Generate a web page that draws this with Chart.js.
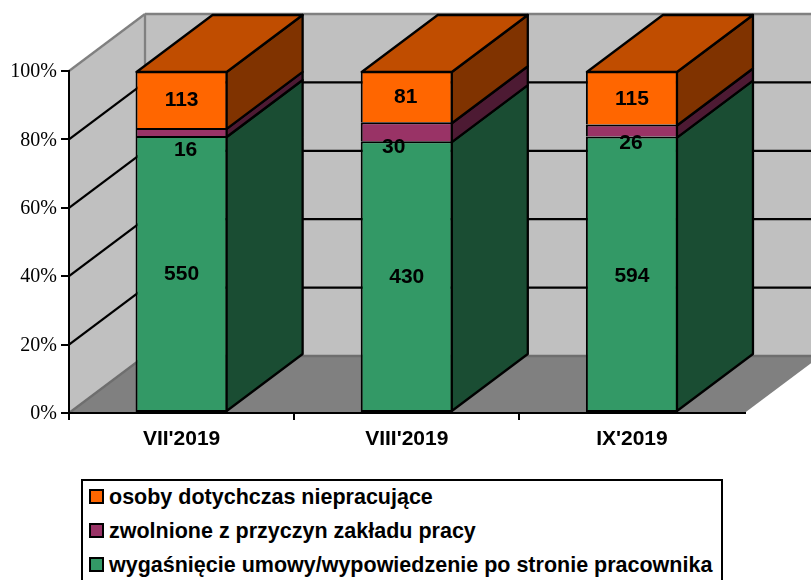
<!DOCTYPE html>
<html lang="pl">
<head>
<meta charset="utf-8">
<title>Struktura</title>
<script src="https://cdn.jsdelivr.net/npm/chart.js@4/dist/chart.umd.min.js"></script>
<style>
    html, body { margin: 0; padding: 0; background: #fff; overflow: hidden; }
    #wrap { position: relative; width: 811px; height: 580px; overflow: hidden; }
    #legend {
        position: absolute; left: 81px; top: 479px; width: 638px; height: 130px;
        border: 2px solid #000; background: #fff;
        font: bold 21.5px "Liberation Sans", Arial, sans-serif; color: #000;
    }
    .row { position: absolute; left: 6px; height: 22px; line-height: 22px; white-space: nowrap; }
    .swatch {
        position: absolute; left: 0; top: 3px; width: 11px; height: 11px;
        border: 2px solid #000;
    }
    .row span.txt { position: absolute; left: 20px; top: 0; }
</style>
</head>
<body>
<div id="wrap">
    <canvas id="chart" width="811" height="580"></canvas>
    <div id="legend"></div>
</div>
<script>
const months = ["VII'2019", "VIII'2019", "IX'2019"];
const leftContract = [550, 430, 594];
const dismissed = [16, 30, 26];
const notWorking = [113, 81, 115];
const yTicks = [0, 20, 40, 60, 80, 100];

const names = [
    'wygaśnięcie umowy/wypowiedzenie po stronie pracownika',
    'zwolnione z przyczyn zakładu pracy',
    'osoby dotychczas niepracujące',
];

const frontColors = ['#339966', '#993366', '#FF6600'];
const sideColors = ['#1A4D33', '#4D1A33', '#803300'];
const topColor = '#C04D00';

// 3D offset of the box depth
const DX = 76;
const DY = -57;

// hand-moved data labels, [x, y] per month per series
const labelShift = [
    [[0, 0], [4, 18], [0, 1]],
    [[0, 1], [-13, 16], [-1, 1]],
    [[0, 2], [-1, 13], [0, 1]],
];

const series = [leftContract, dismissed, notWorking];
const totals = months.map((_, i) => series.reduce((sum, s) => sum + s[i], 0));

function poly(ctx, pts, fill, stroke, lw) {
    ctx.beginPath();
    pts.forEach((p, i) => (i ? ctx.lineTo(p[0], p[1]) : ctx.moveTo(p[0], p[1])));
    ctx.closePath();
    if (fill) { ctx.fillStyle = fill; ctx.fill(); }
    if (stroke) { ctx.strokeStyle = stroke; ctx.lineWidth = lw || 2; ctx.stroke(); }
}

function line(ctx, x1, y1, x2, y2, color) {
    ctx.beginPath();
    ctx.moveTo(x1, y1);
    ctx.lineTo(x2, y2);
    ctx.strokeStyle = color;
    ctx.lineWidth = 2.3;
    ctx.stroke();
}

// --- walls, floor and their grid ---
const wallsPlugin = {
    id: 'walls',
    // before the scales, so the axis lines stay on top of the walls
    beforeDraw(chart) {
        const { ctx, chartArea: a, scales: { y } } = chart;
        const backL = a.left + DX;
        const backR = a.right + DX;
        const top = y.getPixelForValue(100);
        const bottom = y.getPixelForValue(0);

        ctx.save();
        poly(ctx, [[a.left, top], [backL, top + DY], [backR, top + DY], [backR, bottom + DY], [backL, bottom + DY], [a.left, bottom]], '#C0C0C0');
        poly(ctx, [[a.left, bottom], [backL, bottom + DY], [backR, bottom + DY], [a.right, bottom]], '#808080');

        line(ctx, a.left, top, backL, top + DY, '#808080');
        line(ctx, backL, top + DY, backR, top + DY, '#808080');
        line(ctx, backL, top + DY, backL, bottom + DY, '#808080');
        line(ctx, backL, bottom + DY, backR, bottom + DY, '#6E6E6E');
        line(ctx, a.left, bottom, backL, bottom + DY, '#6E6E6E');

        yTicks.forEach(v => {
            if (v === 0 || v === 100) return;
            const py = y.getPixelForValue(v);
            line(ctx, a.left, py, backL, py + DY, '#000');
            line(ctx, backL, py + DY, backR, py + DY, '#000');
        });
        ctx.restore();
    },
    afterDatasetsDraw(chart) {
        const { ctx } = chart;
        ctx.save();
        ctx.lineJoin = 'round';
        const last = chart.data.datasets.length - 1;
        chart.data.datasets.forEach((ds, d) => {
            chart.getDatasetMeta(d).data.forEach(bar => {
                const p = bar.getProps(['x', 'y', 'base', 'width'], true);
                const r = p.x + p.width / 2 - 1;
                const l = p.x - p.width / 2 + 1;
                const t = p.y + 1;
                const b = d === 0 ? p.base - 1 : p.base + 1;
                poly(ctx, [[r, b], [r + DX, b + DY], [r + DX, t + DY], [r, t]], sideColors[d], '#000', 2.3);
                if (d === last) {
                    poly(ctx, [[l, t], [l + DX, t + DY], [r + DX, t + DY], [r, t]], topColor, '#000', 2.3);
                }
            });
        });

        // data labels
        ctx.font = 'bold 21px "Liberation Sans", Arial, sans-serif';
        ctx.fillStyle = '#000';
        ctx.textAlign = 'center';
        ctx.textBaseline = 'middle';
        chart.data.datasets.forEach((ds, d) => {
            chart.getDatasetMeta(d).data.forEach((bar, i) => {
                const p = bar.getProps(['x', 'y', 'base'], true);
                const shift = labelShift[i][d];
                ctx.fillText(String(series[d][i]), p.x + shift[0], (p.y + p.base) / 2 + shift[1]);
            });
        });
        ctx.restore();
    },
};

new Chart(document.getElementById('chart'), {
    type: 'bar',
    data: {
        labels: months,
        datasets: series.map((s, d) => ({
            label: names[d],
            data: s.map((v, i) => (v / totals[i]) * 100),
            backgroundColor: frontColors[d],
            borderColor: '#000',
            borderWidth: 2,
            // lower segment's top edge is the only line between two segments
            borderSkipped: d === 0 ? false : 'bottom',
            barPercentage: 0.409,
            categoryPercentage: 1,
        })),
    },
    options: {
        responsive: false,
        animation: false,
        layout: { padding: { top: 71, right: 66.5, left: 0, bottom: 0 } },
        plugins: { legend: { display: false }, tooltip: { enabled: false } },
        scales: {
            x: {
                stacked: true,
                afterFit(scale) { scale.height = 167; },
                border: { color: '#000', width: 2 },
                grid: {
                    drawOnChartArea: false,
                    // the extra closing tick gets the scale context, the reference has no tick there
                    color: c => (c.type === 'tick' ? '#000' : 'transparent'),
                    lineWidth: 2,
                    tickLength: 7,
                    offset: true,
                },
                ticks: {
                    color: '#000',
                    padding: 7,
                    maxRotation: 0,
                    font: { family: '"Liberation Sans", Arial, sans-serif', size: 21, weight: 'bold' },
                },
            },
            y: {
                stacked: true,
                min: 0,
                max: 100,
                afterFit(scale) { scale.width = 69; },
                border: { color: '#000', width: 2 },
                grid: { drawOnChartArea: false, color: '#000', lineWidth: 2, tickLength: 8 },
                ticks: {
                    stepSize: 20,
                    color: '#000',
                    padding: 4,
                    labelOffset: 1,
                    font: { family: '"Liberation Serif", "Times New Roman", serif', size: 20 },
                    callback: v => v + '%',
                },
            },
        },
    },
    plugins: [wallsPlugin],
});

// --- legend ---
const legend = document.getElementById('legend');
[2, 1, 0].forEach((d, row) => {
    const el = document.createElement('div');
    el.className = 'row';
    el.style.top = (5 + row * 34) + 'px';
    el.innerHTML = `<div class="swatch" style="background:${frontColors[d]}"></div><span class="txt">${names[d]}</span>`;
    legend.appendChild(el);
});
</script>
</body>
</html>
